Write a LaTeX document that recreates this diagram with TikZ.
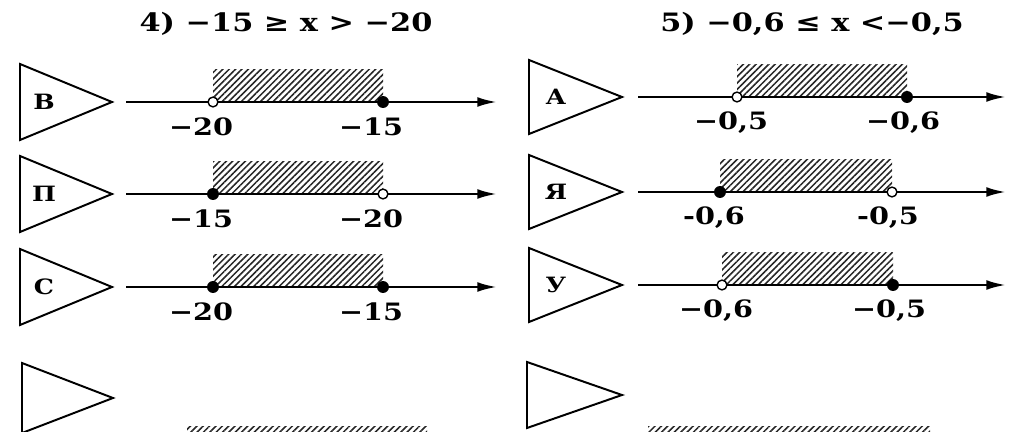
\documentclass[tikz,border=0pt]{standalone}
\usepackage{fontspec}
\setmainfont{DejaVu Serif}[FakeStretch=1.2]
\usetikzlibrary{arrows.meta,patterns.meta}

\tikzset{
  numline/.style={line width=1.8pt, -{Latex[length=14pt,width=7pt]}},
  signbox/.style={line width=1.4pt, line join=miter},
  hatch/.style={pattern={Lines[angle=45,distance=3.2pt,line width=1.1pt]}, pattern color=black!85},
  opendot/.style={circle, draw, fill=white, line width=1pt, inner sep=0pt, minimum size=7pt},
  fulldot/.style={circle, fill=black, inner sep=0pt, minimum size=8.5pt},
  numlabel/.style={font=\fontsize{17}{19}\selectfont\bfseries, inner sep=1pt},
  letter/.style={font=\fontsize{15}{17}\selectfont\bfseries},
  title/.style={font=\fontsize{18}{20}\selectfont\bfseries}
}

\begin{document}
\begin{tikzpicture}[x=0.025cm, y=-0.025cm]
  \useasboundingbox (0,0) rectangle (1014,432);
  \clip (0,0) rectangle (1014,432);

  % Titles
  \node[title] (t4) at (286,24) {4) −15 ≥ x > −20};
  \node[title] (t5) at (812,24) {5) −0,6 ≤ x <−0,5};

  % Left column: y / letter / dots / labels
  \foreach \y/\ltr/\da/\db/\la/\lb [count=\i] in {102/В/opendot/fulldot/−20/−15,
      194/П/fulldot/opendot/−15/−20, 287/С/fulldot/fulldot/−20/−15} {
    \draw[signbox] (20,\y-38) -- (112,\y) -- (20,\y+38) -- cycle;
    \node[letter] (L\i) at (44,\y) {\ltr};
    \fill[hatch] (213,\y-32) rectangle (383,\y);
    \coordinate (Ls\i) at (126,\y);
    \coordinate (Le\i) at (497,\y);
    \draw[numline] (Ls\i) -- (Le\i);
    \node[\da] (La\i) at (213,\y) {};
    \node[\db] (Lb\i) at (383,\y) {};
    \node[numlabel] (Lla\i) at (201,\y+25) {\la};
    \node[numlabel] (Llb\i) at (371,\y+25) {\lb};
  }

  % Right column: y / letter / dot positions / dots / labels
  \foreach \y/\ltr/\xa/\xb/\da/\db/\la/\lb [count=\i] in {97/А/737/907/opendot/fulldot/{−0,5}/{−0,6},
      192/Я/720/892/fulldot/opendot/{-0,6}/{-0,5}, 285/У/722/893/opendot/fulldot/{−0,6}/{−0,5}} {
    \draw[signbox] (529,\y-37) -- (622,\y) -- (529,\y+37) -- cycle;
    \node[letter] (R\i) at (556,\y) {\ltr};
    \fill[hatch] (\xa,\y-32) rectangle (\xb,\y);
    \coordinate (Rs\i) at (638,\y);
    \coordinate (Re\i) at (1006,\y);
    \draw[numline] (Rs\i) -- (Re\i);
    \node[\da] (Ra\i) at (\xa,\y) {};
    \node[\db] (Rb\i) at (\xb,\y) {};
    \node[numlabel] (Rla\i) at (\xa-6,\y+26) {\la};
    \node[numlabel] (Rlb\i) at (\xb-4,\y+26) {\lb};
  }

  % Next row, cut off by the page edge
  \draw[signbox] (22,363) -- (113,398) -- (22,433) -- cycle;
  \draw[signbox] (527,362) -- (622,395) -- (527,428) -- cycle;
  \fill[hatch] (187,427) rectangle (427,445);
  \fill[hatch] (648,427) rectangle (930,445);
\end{tikzpicture}
\end{document}
